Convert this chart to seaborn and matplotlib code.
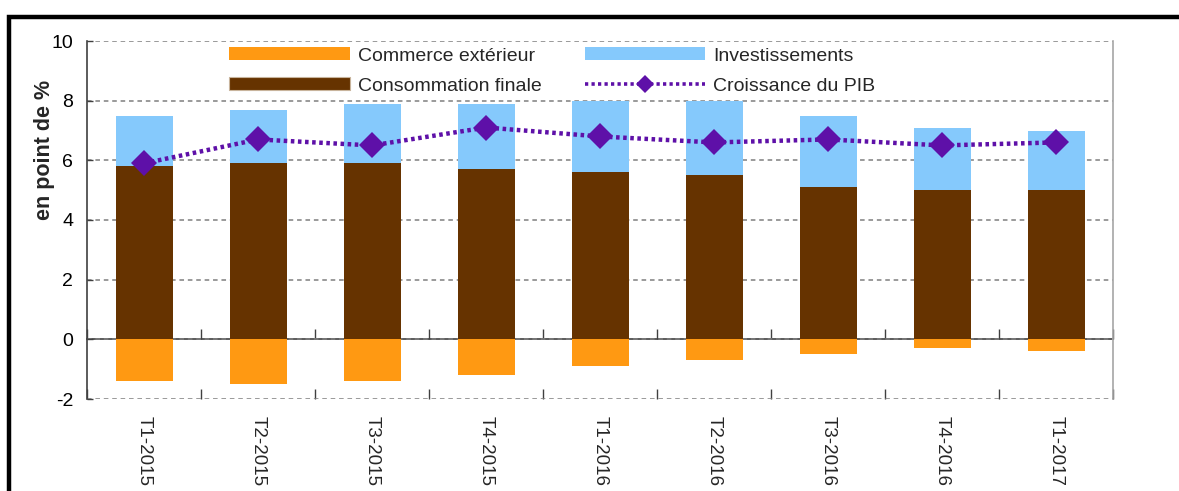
import numpy as np
import pandas as pd
import matplotlib
matplotlib.use("Agg")
import matplotlib.pyplot as plt
import seaborn as sns
from matplotlib.patches import Patch, Rectangle
from matplotlib.lines import Line2D

# ---- data ----
categories = ["T1-2015", "T2-2015", "T3-2015", "T4-2015", "T1-2016",
              "T2-2016", "T3-2016", "T4-2016", "T1-2017"]
commerce = [-1.4, -1.5, -1.4, -1.2, -0.9, -0.7, -0.5, -0.3, -0.4]
consommation = [5.8, 5.9, 5.9, 5.7, 5.6, 5.5, 5.1, 5.0, 5.0]
investissements = [1.7, 1.8, 2.0, 2.2, 2.4, 2.5, 2.4, 2.1, 2.0]
pib = [5.9, 6.7, 6.5, 7.1, 6.8, 6.6, 6.7, 6.5, 6.6]
y_ticks = [-2, 0, 2, 4, 6, 8, 10]

c_commerce = "#FF9912"
c_conso = "#663300"
c_invest = "#85C9FC"
c_pib = "#5E10A8"

sns.set_theme(style="white")
plt.rcParams["font.family"] = ["Liberation Sans", "DejaVu Sans"]

df = pd.DataFrame({
    "cat": categories,
    "commerce": commerce,
    "conso": consommation,
    "invest_top": np.array(consommation) + np.array(investissements),
    "pib": pib,
})

fig = plt.figure(figsize=(11.79, 4.91), dpi=100)
ax = fig.add_axes([87 / 1179, 1 - 399 / 491, (1113 - 87) / 1179, (399 - 41) / 491])

sns.barplot(data=df, x="cat", y="invest_top", color=c_invest, saturation=1,
            width=0.5, linewidth=0, ax=ax, zorder=2)
sns.barplot(data=df, x="cat", y="conso", color=c_conso, saturation=1,
            width=0.5, linewidth=0, ax=ax, zorder=2)
sns.barplot(data=df, x="cat", y="commerce", color=c_commerce, saturation=1,
            width=0.5, linewidth=0, ax=ax, zorder=2)
df["pos"] = np.arange(len(categories))
sns.lineplot(data=df, x="pos", y="pib", color=c_pib, lw=3.2,
             linestyle=(0, (0.8, 0.8)), marker="D", markersize=13,
             markeredgewidth=0, ax=ax, zorder=4, sort=False)
for l in ax.lines:
    l.set_dash_capstyle("butt")

ax.set_xlim(-0.5, len(categories) - 0.5)
ax.set_ylim(-2, 10)
ax.set_yticks(y_ticks)
ax.set_yticklabels([str(v) for v in y_ticks], fontsize=14)
ax.yaxis.grid(True, linestyle=(0, (3, 2.5)), color="#7F7F7F", lw=1.1, zorder=0)
ax.set_axisbelow(True)
ax.tick_params(axis="y", direction="in", length=4, width=1, color="#404040",
               pad=10, left=True, labelcolor="black")

ax.set_xticks(np.arange(len(categories)))
ax.set_xticklabels(categories, rotation=270, fontsize=13.5, va="top", ha="center")
ax.tick_params(axis="x", which="major", length=0, pad=12.5)
ax.set_xticks(np.arange(len(categories) + 1) - 0.5, minor=True)
ax.tick_params(axis="x", which="minor", direction="in", length=7, width=1,
               color="#404040", bottom=True)

ax.set_xlabel("")
ax.set_ylabel("en point de %", fontsize=15.5, fontweight="bold")
ax.yaxis.set_label_coords(-0.031, 0.696)

for s in ["top", "bottom"]:
    ax.spines[s].set_visible(False)
ax.spines["left"].set_color("#404040")
ax.spines["left"].set_linewidth(1.2)
ax.spines["right"].set_color("#A6A6A6")
ax.spines["right"].set_linewidth(1.2)

# zero axis with boundary ticks
sec = ax.secondary_xaxis(0, transform=ax.transData)
sec.spines["bottom"].set_color("#404040")
sec.spines["bottom"].set_linewidth(1.2)
sec.set_xticks(np.arange(len(categories) + 1) - 0.5)
sec.tick_params(axis="x", direction="in", length=7, width=1, color="#404040",
                labelbottom=False, labeltop=False)

handles = [
    Patch(facecolor=c_commerce, edgecolor="none"),
    Patch(facecolor=c_conso, edgecolor="#C8B49C", linewidth=0.8),
    Patch(facecolor=c_invest, edgecolor="none"),
    Line2D([], [], color=c_pib, lw=2.6, linestyle=(0, (0.9, 0.9)),
           marker="D", markersize=9, markeredgewidth=0),
]
labels = ["Commerce extérieur", "Consommation finale",
          "Investissements", "Croissance du PIB"]
leg = ax.legend(handles, labels, ncol=2, loc="upper left",
                bbox_to_anchor=((229 - 87) / 1026, 0.982), frameon=False,
                fontsize=14, handlelength=6.2, handleheight=0.62,
                handletextpad=0.41, columnspacing=2.24, labelspacing=0.66,
                borderpad=0, borderaxespad=0)

# outer frame
fig.add_artist(Rectangle((9.5 / 1179, -0.2), 1.2, 1 - 17 / 491 + 0.2,
                         transform=fig.transFigure, fill=False, lw=3.2,
                         edgecolor="black", clip_on=False))

fig.savefig("out.png", dpi=100)
